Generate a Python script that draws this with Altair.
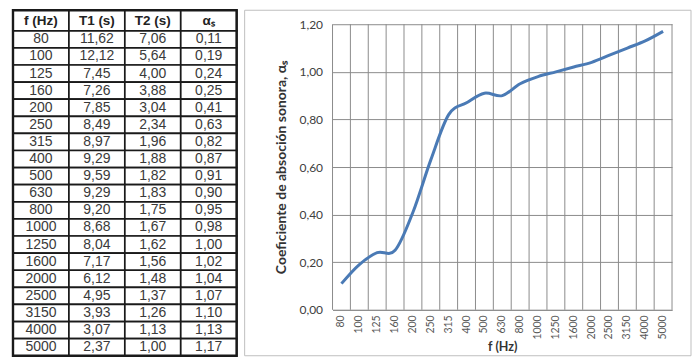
import altair as alt
import pandas as pd

freqs = ["80", "100", "125", "160", "200", "250", "315", "400", "500", "630",
         "800", "1000", "1250", "1600", "2000", "2500", "3150", "4000", "5000"]
t1 = [11.62, 12.12, 7.45, 7.26, 7.85, 8.49, 8.97, 9.29, 9.59, 9.29,
      9.20, 8.68, 8.04, 7.17, 6.12, 4.95, 3.93, 3.07, 2.37]
t2 = [7.06, 5.64, 4.00, 3.88, 3.04, 2.34, 1.96, 1.88, 1.82, 1.83,
      1.75, 1.67, 1.62, 1.56, 1.48, 1.37, 1.26, 1.13, 1.00]
alpha = [0.11, 0.19, 0.24, 0.25, 0.41, 0.63, 0.82, 0.87, 0.91, 0.90,
         0.95, 0.98, 1.00, 1.02, 1.04, 1.07, 1.10, 1.13, 1.17]
headers = ["f (Hz)", "T1 (s)", "T2 (s)", "αₛ"]
y_ticks = [0.0, 0.2, 0.4, 0.6, 0.8, 1.0, 1.2]


def fmt(v):
    return f"{v:.2f}".replace(".", ",")


HEAD = 1.2
cells = []
for r in range(len(freqs) + 1):
    if r == 0:
        r0, r1 = 0.0, HEAD
        vals = headers
    else:
        i = r - 1
        r0, r1 = HEAD + i, HEAD + i + 1
        vals = [freqs[i], fmt(t1[i]), fmt(t2[i]), fmt(alpha[i])]
    for c in range(4):
        cells.append(dict(c0=c, c1=c + 1, r0=r0, r1=r1, cx=c + 0.5,
                          cy=(r0 + r1) / 2, label=vals[c], header=(r == 0)))
cells_df = pd.DataFrame(cells)
total_rows = HEAD + len(freqs)
outer_df = pd.DataFrame([dict(c0=0, c1=4, r0=0, r1=total_rows)])

PLOT_H = 286
TOP = -14
BOTTOM = 332

xs = alt.Scale(domain=[0, 4], nice=False, zero=False)
ys = alt.Scale(domain=[0, total_rows], range=[TOP, BOTTOM], nice=False, zero=False)

rects = alt.Chart(cells_df).mark_rect(fill="white", stroke="#1a1a1a", strokeWidth=1.7).encode(
    x=alt.X("c0:Q", scale=xs, axis=None), x2="c1",
    y=alt.Y("r0:Q", scale=ys, axis=None), y2="r1")
outer = alt.Chart(outer_df).mark_rect(filled=False, stroke="#1a1a1a", strokeWidth=2.4).encode(
    x=alt.X("c0:Q", scale=xs, axis=None), x2="c1",
    y=alt.Y("r0:Q", scale=ys, axis=None), y2="r1")
body_text = alt.Chart(cells_df).transform_filter("!datum.header").mark_text(
    font="Liberation Sans", fontSize=14, color="#3a3a3a", baseline="middle", align="center").encode(
    x=alt.X("cx:Q", scale=xs, axis=None), y=alt.Y("cy:Q", scale=ys, axis=None), text="label:N")
head_text = alt.Chart(cells_df).transform_filter("datum.header").mark_text(
    font="Liberation Sans", fontSize=13.5, fontWeight="bold", color="#222222",
    baseline="middle", align="center").encode(
    x=alt.X("cx:Q", scale=xs, axis=None), y=alt.Y("cy:Q", scale=ys, axis=None), text="label:N")

table = alt.layer(rects, outer, body_text, head_text).properties(width=224, height=PLOT_H)

df = pd.DataFrame({"f": freqs, "a": alpha})
grid_col = "#8c8c8c"
xband = alt.Scale(type="band", paddingInner=0, paddingOuter=0)

line = alt.Chart(df).mark_line(interpolate="cardinal", color="#4a7ab5", strokeWidth=3).encode(
    x=alt.X("f:N", sort=freqs, bandPosition=0.5, scale=xband,
            axis=alt.Axis(title="f (Hz)", labelAngle=270, ticks=False, grid=False,
                          domainColor=grid_col,
                          labelFont="Lato", labelFontSize=10.5, labelColor="#595959",
                          labelPadding=5, titleFont="Lato", titleFontSize=12.5,
                          titleFontWeight="bold", titleColor="#333333", titlePadding=1)),
    y=alt.Y("a:Q", scale=alt.Scale(domain=[0, 1.2], nice=False, zero=True),
            axis=alt.Axis(title="Coeficiente de absoción sonora, αₛ", values=y_ticks,
                          labelExpr="replace(format(datum.value, '.2f'), '.', ',')",
                          ticks=False, domain=False, grid=True, gridColor=grid_col, gridWidth=1,
                          labelFont="Lato", labelFontSize=12, labelColor="#404040",
                          labelPadding=10, titleFont="Lato", titleFontSize=14,
                          titleFontWeight="bold", titleColor="#333333", titlePadding=10)))

vgrid = alt.Chart(df).mark_rule(color=grid_col, strokeWidth=1).encode(
    x=alt.X("f:N", sort=freqs, bandPosition=0, scale=xband))
vgrid_end = alt.Chart(df).transform_filter(
    alt.datum.f == freqs[-1]).mark_rule(color=grid_col, strokeWidth=1).encode(
    x=alt.X("f:N", sort=freqs, bandPosition=1, scale=xband))

box = alt.Chart(pd.DataFrame({"k": [0]})).mark_rect(
    filled=False, stroke="#bfbfbf", strokeWidth=1).encode(
    x=alt.value(-88), x2=alt.value(359), y=alt.value(TOP), y2=alt.value(BOTTOM))

right = alt.layer(box, vgrid, vgrid_end, line).properties(width=340, height=PLOT_H)

chart = alt.hconcat(table, right, spacing=5).properties(
    padding={"left": 3, "top": 0, "right": 0, "bottom": 0},
    background="white").configure_view(strokeWidth=0)

chart.save("out.html", embed_options={"renderer": "svg", "actions": False})
